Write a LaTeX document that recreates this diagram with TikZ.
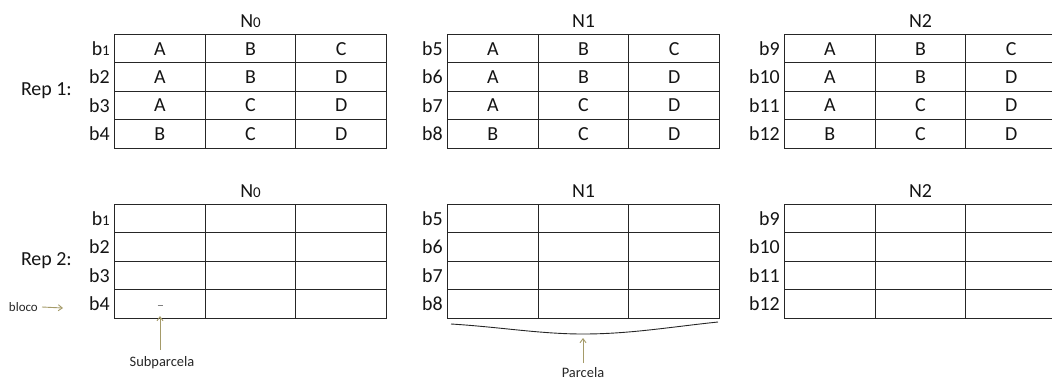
\documentclass[tikz,border=0pt]{standalone}
\usepackage{fontspec}
\setmainfont{Carlito}
\usetikzlibrary{arrows.meta,positioning}
\definecolor{khaki}{RGB}{165,155,105}

\begin{document}
\begin{tikzpicture}[
  x=1bp, y=-1bp,
  every node/.style={font=\fontsize{20}{22}\selectfont, inner sep=0pt, text=black!92},
  cell/.style={draw=black!85, line width=1bp, minimum width=90.7bp, minimum height=28.4bp, anchor=north west},
  note/.style={font=\fontsize{14.5}{16}\selectfont, text=black!85},
  pointer/.style={-{Straight Barb[length=4bp,width=6bp]}, draw=khaki, line width=0.9bp},
  brace/.style={draw=black!85, line width=0.9bp}
]
\useasboundingbox (0,0) rectangle (1052,381);
\clip (0,0) rectangle (1052,381);

% tables: rep / top edge, table / left edge
\foreach \rep/\top in {1/34, 2/204} {
  \foreach \tab/\left in {0/114, 1/447, 2/784} {
    \foreach \row/\ca/\cb/\cc in {1/A/B/C, 2/A/B/D, 3/A/C/D, 4/B/C/D} {
      \foreach \col/\txt in {1/\ca, 2/\cb, 3/\cc}
        \node[cell] (c-\rep-\tab-\row-\col) at ({\left+(\col-1)*90.7}, {\top+(\row-1)*28.4}) {\ifnum\rep=1 \txt\fi};
      \pgfmathtruncatemacro\blk{4*\tab+\row}
      \node[left=4bp of c-\rep-\tab-\row-1] (l-\rep-\tab-\row) {\ifnum\blk=1 b{\fontsize{15}{15}\selectfont 1}\else b\blk\fi};
    }
    \node[above=6bp of c-\rep-\tab-1-2] (h-\rep-\tab) {\ifnum\tab=0 N{\fontsize{15}{15}\selectfont 0}\else N\tab\fi};
  }
  \node[anchor=east] (rep-\rep) at (72, \top+56.7) {Rep \rep:};
}

% annotations
\node[note, font=\fontsize{13}{15}\selectfont, anchor=east] (bloco) at (38, 307) {bloco};
\coordinate (bloco-tip) at (63, 308);
\draw[pointer] ([xshift=4bp]bloco.east) -- (bloco-tip);

\node[note] (subp) at (162, 363) {Subparcela};
\coordinate (subp-tail) at (160, 350);
\coordinate (subp-tip) at (160, 316);
\draw[pointer] (subp-tail) -- (subp-tip);
\draw[draw=gray, line width=0.7bp] (157.5, 305.5) -- (162.5, 305.5);

\node[note] (parc) at (583, 373) {Parcela};
\coordinate (parc-tail) at (583, 363);
\coordinate (parc-tip) at (583, 338);
\draw[pointer] (parc-tail) -- (parc-tip);
\draw[brace] (451, 324) .. controls (500, 327) and (540, 334) .. (583, 334)
  .. controls (630, 334) and (670, 327) .. (718, 322);
\end{tikzpicture}
\end{document}
